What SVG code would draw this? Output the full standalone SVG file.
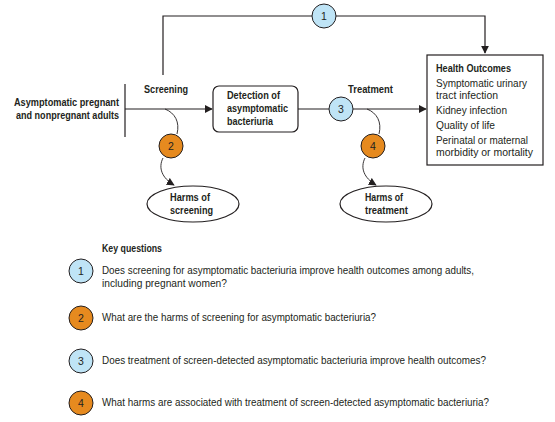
<svg xmlns="http://www.w3.org/2000/svg" width="555" height="422" viewBox="0 0 555 422">
<defs>
<style>
text{font-family:"Liberation Sans",Arial,sans-serif;font-size:11px;fill:#231f20}
.b{font-weight:bold}
.ln{fill:none;stroke:#231f20;stroke-width:1.2}
.cu{fill:none;stroke:#231f20;stroke-width:0.9}
.blue{fill:#bfe4f6;stroke:#231f20;stroke-width:1}
.org{fill:#e68a1f;stroke:#231f20;stroke-width:1}
.num{text-anchor:middle;font-size:10.5px}
.box{fill:#fff;stroke:#231f20;stroke-width:1.2}
</style>
<marker id="ah" viewBox="0 0 10 10" refX="9" refY="5" markerWidth="8" markerHeight="8" markerUnits="userSpaceOnUse" orient="auto"><path d="M0,0L10,5L0,10z" fill="#231f20"/></marker>
</defs>
<g id="connectors">
<path class="ln" d="M163,75V16H485V53" marker-end="url(#ah)"/>
<path class="ln" d="M125,84V137"/>
<path class="ln" d="M125,109H212" marker-end="url(#ah)"/>
<path class="ln" d="M298,109H426" marker-end="url(#ah)"/>
<path class="cu" d="M165,109C175,113 180,122 177,134"/>
<path class="cu" d="M163,158C158,168 162,178 174,185" marker-end="url(#ah)"/>
<path class="cu" d="M367,109C377,113 382,122 379,134"/>
<path class="cu" d="M365,158C360,168 364,178 376,185" marker-end="url(#ah)"/>
</g>
<g id="population">
<text x="119" y="106" text-anchor="end" class="b" textLength="105" lengthAdjust="spacingAndGlyphs">Asymptomatic pregnant</text>
<text x="119" y="119" text-anchor="end" class="b" textLength="103" lengthAdjust="spacingAndGlyphs">and nonpregnant adults</text>
</g>
<g id="screening-label"><text x="144" y="93" class="b" textLength="44" lengthAdjust="spacingAndGlyphs">Screening</text></g>
<g id="treatment-label"><text x="348" y="93" class="b" textLength="45" lengthAdjust="spacingAndGlyphs">Treatment</text></g>
<g id="detection">
<rect class="box" x="213" y="86" width="85" height="46" rx="6"/>
<text x="227" y="99" class="b" textLength="53" lengthAdjust="spacingAndGlyphs">Detection of</text>
<text x="227" y="112" class="b" textLength="61" lengthAdjust="spacingAndGlyphs">asymptomatic</text>
<text x="227" y="125" class="b" textLength="46" lengthAdjust="spacingAndGlyphs">bacteriuria</text>
</g>
<g id="outcomes">
<rect class="box" x="427" y="55" width="116" height="110"/>
<text x="436" y="72" class="b" textLength="75" lengthAdjust="spacingAndGlyphs">Health Outcomes</text>
<text x="436" y="87" textLength="91" lengthAdjust="spacingAndGlyphs">Symptomatic urinary</text>
<text x="436" y="99" textLength="62" lengthAdjust="spacingAndGlyphs">tract infection</text>
<text x="436" y="114" textLength="71" lengthAdjust="spacingAndGlyphs">Kidney infection</text>
<text x="436" y="129" textLength="59" lengthAdjust="spacingAndGlyphs">Quality of life</text>
<text x="436" y="144" textLength="92" lengthAdjust="spacingAndGlyphs">Perinatal or maternal</text>
<text x="436" y="156" textLength="97" lengthAdjust="spacingAndGlyphs">morbidity or mortality</text>
</g>
<g id="harms-screening">
<ellipse class="box" cx="193" cy="204" rx="46" ry="18"/>
<text x="170" y="201" class="b" textLength="40" lengthAdjust="spacingAndGlyphs">Harms of</text>
<text x="170" y="214" class="b" textLength="43" lengthAdjust="spacingAndGlyphs">screening</text>
</g>
<g id="harms-treatment">
<ellipse class="box" cx="386" cy="204" rx="46" ry="18"/>
<text x="365" y="201" class="b" textLength="38" lengthAdjust="spacingAndGlyphs">Harms of</text>
<text x="365" y="214" class="b" textLength="43" lengthAdjust="spacingAndGlyphs">treatment</text>
</g>
<g id="kq1"><circle class="blue" cx="324" cy="16" r="12"/><text class="num" x="324" y="20">1</text></g>
<g id="kq2"><circle class="org" cx="171" cy="146" r="12"/><text class="num" x="171" y="150">2</text></g>
<g id="kq3"><circle class="blue" cx="341" cy="109" r="12"/><text class="num" x="341" y="113">3</text></g>
<g id="kq4"><circle class="org" cx="373" cy="146" r="12"/><text class="num" x="373" y="150">4</text></g>
<g id="key">
<text x="102" y="252" class="b" textLength="60" lengthAdjust="spacingAndGlyphs">Key questions</text>
<circle class="blue" cx="81" cy="271" r="12"/><text class="num" x="81" y="275">1</text>
<text x="102" y="274" textLength="372" lengthAdjust="spacingAndGlyphs">Does screening for asymptomatic bacteriuria improve health outcomes among adults,</text>
<text x="102" y="287" textLength="125" lengthAdjust="spacingAndGlyphs">including pregnant women?</text>
<circle class="org" cx="81" cy="318" r="12"/><text class="num" x="81" y="322">2</text>
<text x="102" y="321" textLength="274" lengthAdjust="spacingAndGlyphs">What are the harms of screening for asymptomatic bacteriuria?</text>
<circle class="blue" cx="81" cy="361" r="12"/><text class="num" x="81" y="365">3</text>
<text x="102" y="364" textLength="384" lengthAdjust="spacingAndGlyphs">Does treatment of screen-detected asymptomatic bacteriuria improve health outcomes?</text>
<circle class="org" cx="81" cy="403" r="12"/><text class="num" x="81" y="407">4</text>
<text x="102" y="406" textLength="387" lengthAdjust="spacingAndGlyphs">What harms are associated with treatment of screen-detected asymptomatic bacteriuria?</text>
</g>
</svg>
